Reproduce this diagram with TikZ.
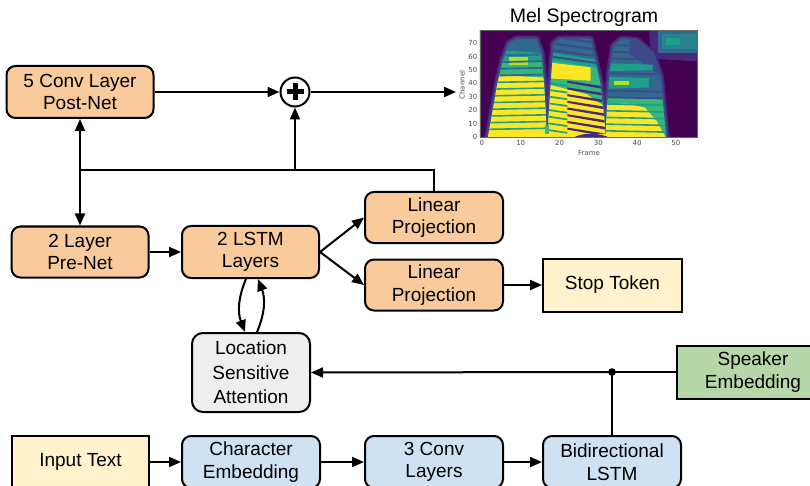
\documentclass[tikz,border=0pt]{standalone}
\usepackage{fontspec}
\setmainfont{Liberation Sans}
\newfontfamily\dvs{DejaVu Sans}
\usetikzlibrary{arrows.meta}
\definecolor{cOrange}{HTML}{F9CB9C}
\definecolor{cYellow}{HTML}{FFF2CC}
\definecolor{cBlue}{HTML}{CFE2F3}
\definecolor{cGrey}{HTML}{EEEEEE}
\definecolor{cGreen}{HTML}{B6D7A8}
\definecolor{v0}{HTML}{440154}
\definecolor{v1}{HTML}{482878}
\definecolor{v2}{HTML}{3E4A89}
\definecolor{v3}{HTML}{31688E}
\definecolor{v4}{HTML}{26828E}
\definecolor{v5}{HTML}{1F9E89}
\definecolor{v6}{HTML}{35B779}
\definecolor{v7}{HTML}{6DCD59}
\definecolor{v8}{HTML}{B4DE2C}
\definecolor{v9}{HTML}{FDE725}
\newcommand\mf{\fontsize{19}{22.5}\selectfont}
\newcommand\tickf{\dvs\fontsize{7}{8}\selectfont}
\tikzset{
  basebox/.style={draw=black, line width=2pt, align=center, font=\mf, inner sep=0pt, text=black},
  obx/.style={basebox, rounded corners=9pt, fill=cOrange},
  bbx/.style={basebox, rounded corners=9pt, fill=cBlue},
  gbx/.style={basebox, rounded corners=11pt, fill=cGrey},
  ybx/.style={basebox, fill=cYellow},
  grbx/.style={basebox, fill=cGreen},
  arr/.style={-{Triangle[length=12pt,width=10pt]}, line width=2pt},
  ln/.style={line width=2pt},
  tick/.style={font=\tickf, text=black!70, inner sep=0pt},
  halo1/.style={fill=v1, draw=v1, line width=7pt, line join=round},
  halo2/.style={fill=v2, draw=v2, line width=3.5pt, line join=round}
}
\begin{document}
\begin{tikzpicture}[x=1pt,y=-1pt]
\useasboundingbox (0,0) rectangle (810,486);
\clip (0,0) rectangle (810,486);

% ---------- spectrogram ----------
\node[font=\fontsize{19.5}{22}\selectfont, anchor=base, inner sep=0pt] (title) at (584,23) {Mel Spectrogram};
\begin{scope}[xshift=481.9pt,yshift=-137pt,x=3.88pt,y=1.34pt]
 \begin{scope}
  \clip (-0.5,-0.5) rectangle (55.5,79.5);
  \fill[v0] (-1,-1) rectangle (56,80);
  % top right blob
  \path[halo1] (44.5,61) -- (55.6,59) -- (55.6,80) -- (44,80) -- cycle;
  \fill[v3] (45.5,63) rectangle (55.6,79);
  \fill[v4] (46.5,66) rectangle (55.6,77);
  \fill[v5] (47.5,69) rectangle (51,74);
  % segment halos
  \path[halo1] (1.5,-1) -- (2.5,15) -- (4,40) -- (5.5,58) -- (7,70) -- (9,73) -- (14,73) -- (15.3,62) -- (16,40) -- (16.5,15) -- (16.7,-1) -- cycle;
  \path[halo1] (16.8,-1) -- (17.3,20) -- (18,50) -- (18.5,70) -- (20,73) -- (28,73) -- (29,60) -- (30.5,40) -- (31.5,15) -- (32,-1) -- cycle;
  \path[halo1] (31.8,-1) -- (32.3,25) -- (33,50) -- (34,68) -- (36,73) -- (40,72) -- (44,62) -- (46,45) -- (47,15) -- (47.5,-1) -- cycle;
  \path[halo2] (1.5,-1) -- (2.5,15) -- (4,40) -- (5.5,58) -- (7,70) -- (9,73) -- (14,73) -- (15.3,62) -- (16,40) -- (16.5,15) -- (16.7,-1) -- cycle;
  \path[halo2] (16.8,-1) -- (17.3,20) -- (18,50) -- (18.5,70) -- (20,73) -- (28,73) -- (29,60) -- (30.5,40) -- (31.5,15) -- (32,-1) -- cycle;
  \path[halo2] (31.8,-1) -- (32.3,25) -- (33,50) -- (34,68) -- (36,73) -- (40,72) -- (44,62) -- (46,45) -- (47,15) -- (47.5,-1) -- cycle;
  % segment 1
  \begin{scope}
   \clip (1.5,-1) -- (2.5,15) -- (4,40) -- (5.5,58) -- (7,70) -- (9,73) -- (14,73) -- (15.3,62) -- (16,40) -- (16.5,15) -- (16.7,-1) -- cycle;
   \fill[v3] (0,-1) rectangle (18,80);
   \fill[v5] (0,-1) -- (18,-1) -- (18,62) -- (0,66) -- cycle;
   \fill[v6] (0,-1) -- (18,-1) -- (18,56) -- (0,58) -- cycle;
   \fill[v8] (7,54) rectangle (12,60);
   \fill[v9] (0,-1) -- (18,-1) -- (18,44) -- (0,47) -- cycle;
   \foreach \k in {5,10,15,20,25,30,35,40}
     {\fill[v5] (0,\k) -- (18,{\k+1}) -- (18,{\k+2.2}) -- (0,{\k+1.2}) -- cycle;}
   \foreach \k in {45,50,55,60,65,70}
     {\fill[v3] (0,\k) -- (18,{\k+1}) -- (18,{\k+2.4}) -- (0,{\k+1.4}) -- cycle;}
  \end{scope}
  % segment 2
  \begin{scope}
   \clip (16.8,-1) -- (17.3,20) -- (18,50) -- (18.5,70) -- (20,73) -- (28,73) -- (29,60) -- (30.5,40) -- (31.5,15) -- (32,-1) -- cycle;
   \fill[v3] (16,-1) rectangle (33,80);
   \fill[v5] (16,-1) -- (33,-1) -- (33,56) -- (16,64) -- cycle;
   \fill[v6] (16,-1) -- (33,-1) -- (33,50) -- (16,58) -- cycle;
   \fill[v9] (16,44) -- (28,42) -- (28,52) -- (16,56) -- cycle;
   \fill[v9] (16,-1) -- (33,-1) -- (33,20) -- (27,32) -- (16,40) -- cycle;
   \foreach \k in {5,10,15,20,25,30,35,40}
     {\fill[v5] (16,\k) -- (22,{\k-2.5}) -- (22,{\k-1.2}) -- (16,{\k+1.3}) -- cycle;}
   \foreach \k in {8,13,18,23,28,33,38,43}
     {\fill[v1] (22,{\k-2.5}) -- (33,{\k-8}) -- (33,{\k-6}) -- (22,{\k-1}) -- cycle;}
   \foreach \k in {60,65,70,75}
     {\fill[v2] (16,\k) -- (33,{\k-7}) -- (33,{\k-5.5}) -- (16,{\k+1.5}) -- cycle;}
  \end{scope}
  % segment 3
  \begin{scope}
   \clip (31.8,-1) -- (32.3,25) -- (33,50) -- (34,68) -- (36,73) -- (40,72) -- (44,62) -- (46,45) -- (47,15) -- (47.5,-1) -- cycle;
   \fill[v3] (31,-1) rectangle (48,80);
   \fill[v2] (38,62) -- (48,42) -- (48,80) -- (38,80) -- cycle;
   \fill[v5] (32,36) -- (43,37) -- (43,44) -- (32,45) -- cycle;
   \fill[v8] (34,39) rectangle (38,42);
   \fill[v5] (32,49) -- (44,50) -- (44,54) -- (32,55) -- cycle;
   \fill[v6] (32,-1) -- (48,-1) -- (48,28) -- (32,30) -- cycle;
   \fill[v9] (32,-1) -- (47.5,-1) -- (45,12) -- (42,22) -- (37,25) -- (32,24) -- cycle;
   \foreach \k in {4,9,14,19,24}
     {\fill[v5] (32,\k) -- (48,{\k-1}) -- (48,{\k+0.2}) -- (32,{\k+1.2}) -- cycle;}
   \foreach \k in {29,34,47,58,63,68}
     {\fill[v2] (32,\k) -- (48,{\k-1}) -- (48,{\k+0.3}) -- (32,{\k+1.3}) -- cycle;}
  \end{scope}
  % bottom rows
  \fill[v9] (2.2,-1) rectangle (47,2.6);
  \fill[v6] (16.2,2.6) rectangle (17.4,9);
  \fill[v1] (23.5,-1) .. controls (25,3.5) and (31,3.5) .. (33,-1) -- cycle;
 \end{scope}
 \draw[black!60, line width=0.5pt] (-0.5,-0.5) rectangle (55.5,79.5);
\end{scope}
% axis labels
\foreach \f in {0,10,20,30,40,50}
  {\node[tick] at ({481.9+3.88*\f},143) {\f};}
\foreach \c in {0,10,20,30,40,50,60,70}
  {\node[tick, anchor=east] at (477.5,{137-1.34*\c}) {\c};}
\node[tick, rotate=90] (chlab) at (462,85) {Channel};
\node[tick] (frlab) at (589,153) {Frame};

% ---------- boxes ----------
\node[obx, minimum width=147pt, minimum height=52pt] (post) at (80,92) {5 Conv Layer\\Post-Net};
\node[circle, draw, line width=2pt, fill=white, minimum size=29pt, inner sep=0pt] (plus) at (295,92) {};
\draw[line width=5pt] ([xshift=-8.5pt]plus.center) -- ([xshift=8.5pt]plus.center);
\draw[line width=5pt] ([yshift=-8.5pt]plus.center) -- ([yshift=8.5pt]plus.center);
\coordinate (spec) at (456,92);

\node[obx, minimum width=137pt, minimum height=51pt] (pre) at (80,252) {2 Layer\\Pre-Net};
\node[obx, minimum width=137pt, minimum height=52pt] (lstm) at (250.5,252) {2 LSTM\\Layers};
\node[obx, minimum width=138pt, minimum height=51pt] (lp1) at (434,217.5) {Linear\\Projection};
\node[obx, minimum width=138pt, minimum height=51pt] (lp2) at (434,285) {Linear\\Projection};
\node[ybx, minimum width=139pt, minimum height=53pt] (stop) at (612.5,285) {Stop Token};
\node[gbx, minimum width=118pt, minimum height=79pt, font=\fontsize{19}{24.5}\selectfont] (att) at (251,372.5) {Location\\Sensitive\\Attention};
\node[grbx, minimum width=152pt, minimum height=53pt] (spk) at (753,372) {Speaker\\Embedding};

\node[ybx, minimum width=137pt, minimum height=52pt] (inp) at (80.5,462) {Input Text};
\node[bbx, minimum width=138pt, minimum height=52pt] (chr) at (251,462) {Character\\Embedding};
\node[bbx, minimum width=138pt, minimum height=52pt] (conv) at (434,462) {3 Conv\\Layers};
\node[bbx, minimum width=138pt, minimum height=52pt] (bil) at (612,462) {Bidirectional\\LSTM};

% ---------- connectors ----------
\coordinate (jl) at (80,170);
\coordinate (jp) at (295,170);
\coordinate (jr) at (434,170);
\coordinate (jn) at (612,372);

\draw[arr] (post.east) -- (plus.west);
\draw[arr] (plus.east) -- (spec);
\draw[ln] (lp1.north) -- (jr) -- (jl);
\draw[arr] (jp) -- (plus.south);
\draw[arr] (jl) -- (post.south);
\draw[arr] (jl) -- (pre.north);
\draw[arr] (pre.east) -- (lstm.west);
\draw[arr] (lstm.east) -- (lp1.west);
\draw[arr] (lstm.east) -- (lp2.west);
\draw[arr] (lp2.east) -- (stop.west);
\draw[arr] ([xshift=-4.5pt]lstm.south) to[bend right=22] ([xshift=-6pt]att.north);
\draw[arr] ([xshift=6pt]att.north) to[bend right=22] ([xshift=7.5pt]lstm.south);
\draw[ln] (spk.west) -- (jn);
\draw[ln] (bil.north) -- (jn);
\draw[arr] (jn) -- (att.east);
\fill (jn) circle (3.8pt);
\draw[arr] (inp.east) -- (chr.west);
\draw[arr] (chr.east) -- (conv.west);
\draw[arr] (conv.east) -- (bil.west);
\end{tikzpicture}
\end{document}
